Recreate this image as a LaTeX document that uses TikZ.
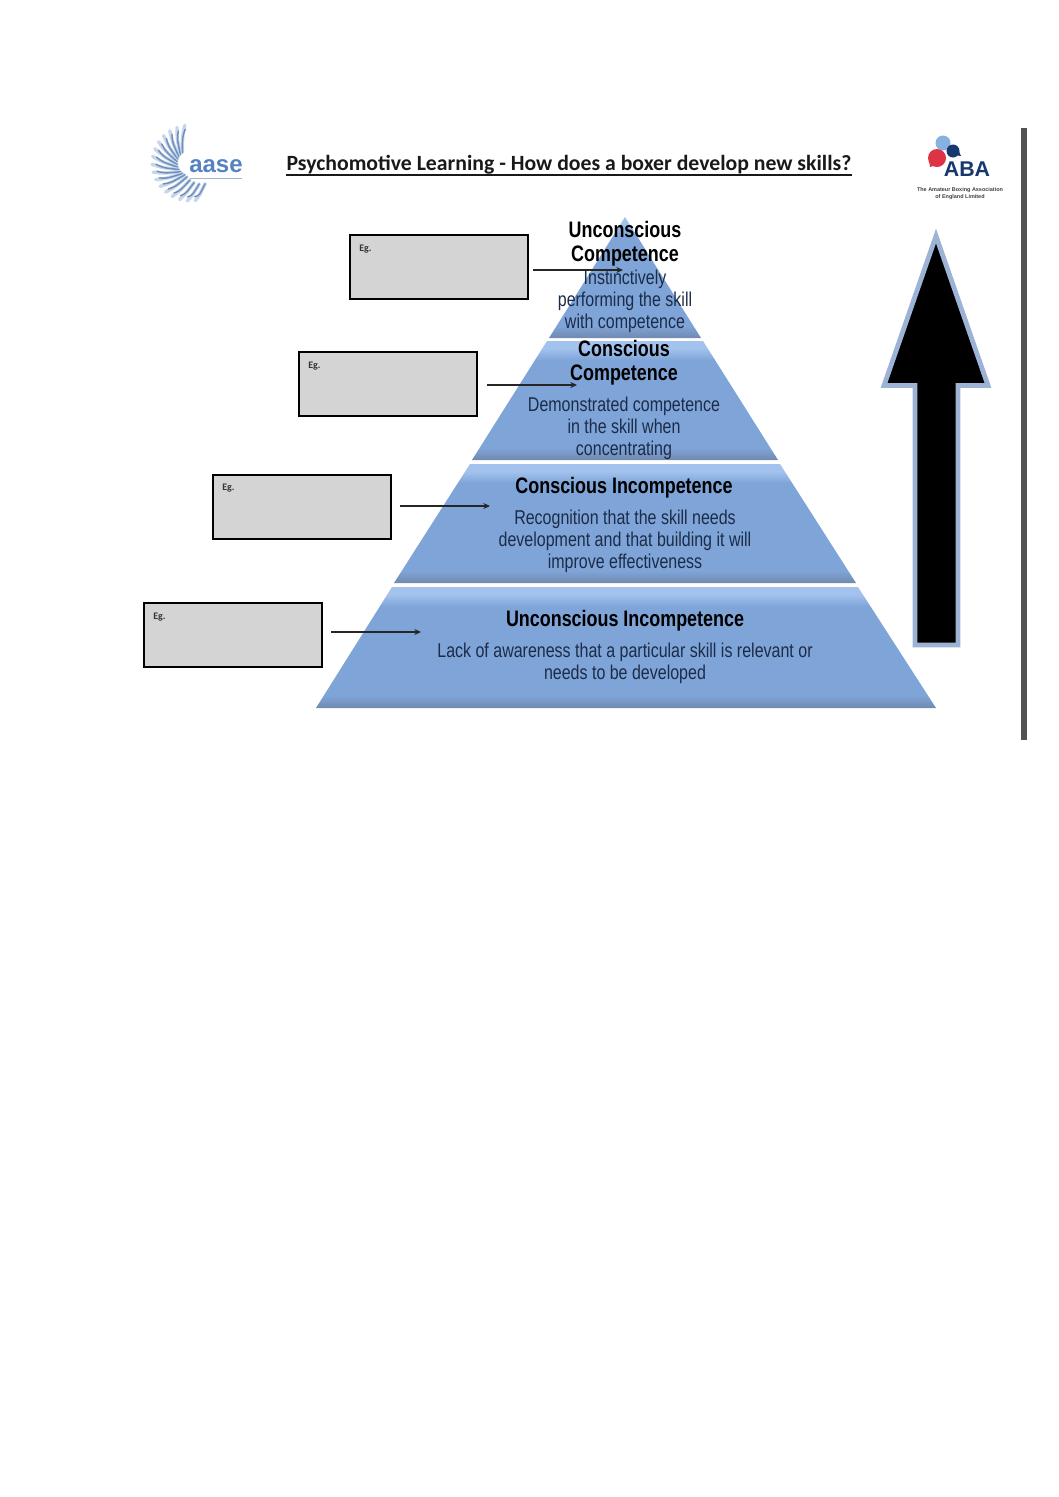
\documentclass[tikz,border=0pt]{standalone}
\usepackage{fontspec}
\setmainfont{Liberation Sans}
\newfontfamily\narrowfont[FakeStretch=0.8]{Liberation Sans}
\newfontfamily\calfont{Carlito}
\usetikzlibrary{arrows.meta,calc}
\definecolor{bandmid}{HTML}{7FA4D8}
\definecolor{banddark}{HTML}{7089AE}
\definecolor{bandlight}{HTML}{A3C3EE}
\definecolor{bodytext}{HTML}{1C2C48}
\definecolor{arrowedge}{HTML}{9DB3D6}
\definecolor{logoblue}{HTML}{5583BF}
\definecolor{raydark}{HTML}{6F8FBE}
\definecolor{raylight}{HTML}{C8D6E9}
\definecolor{abanavy}{HTML}{17386F}
\definecolor{abared}{HTML}{DE3344}
\definecolor{abalight}{HTML}{86B1E0}
\pgfdeclareverticalshading{bandshade}{100bp}{color(0bp)=(banddark);color(25bp)=(banddark);color(30bp)=(bandmid);color(67bp)=(bandmid);color(72bp)=(bandlight);color(75bp)=(bandlight);color(100bp)=(bandlight)}
\tikzset{
  band/.style={shade,shading=bandshade},
  headtxt/.style={font=\narrowfont\fontsize{16.8}{17.5}\selectfont\bfseries,text=black,align=center,inner sep=0pt},
  bodytxt/.style={font=\narrowfont\fontsize{15}{16.5}\selectfont,text=bodytext,align=center,inner sep=0pt},
  egbox/.style={draw=black,line width=1.5pt,fill=black!17,minimum width=132.8pt,minimum height=48pt,inner sep=0pt},
  egtxt/.style={font=\calfont\fontsize{7.5}{8}\selectfont\bfseries,text=black!80,inner sep=0pt,anchor=west},
  conn/.style={draw=black!85,line width=0.85pt,-{Stealth[length=5pt,width=4.5pt]}},
}
\begin{document}
\begin{tikzpicture}[x=0.75pt,y=-0.75pt]
\useasboundingbox (0,0) rectangle (1058,1497);
% pyramid
\path[band] (625,217) -- (701,338) -- (549,338) -- cycle;
\path[band] (547,341) -- (703,341) -- (778,460) -- (472,460) -- cycle;
\path[band] (470,464) -- (780,464) -- (856,583) -- (394,583) -- cycle;
\path[band] (392,587) -- (858,587) -- (936,708) -- (316,708) -- cycle;
% pyramid text
\node[headtxt] (h1) at (625,244) {Unconscious\\[0.5pt]Competence};
\node[bodytxt] (t1) at (625,301.5) {Instinctively\\performing the skill\\with competence};
\node[headtxt] (h2) at (624,363) {Conscious\\[0.5pt]Competence};
\node[bodytxt] (t2) at (624,428) {Demonstrated competence\\in the skill when\\concentrating};
\node[headtxt] (h3) at (624,488) {Conscious Incompetence};
\node[bodytxt] (t3) at (625,541) {Recognition that the skill needs\\development and that building it will\\improve effectiveness};
\node[headtxt] (h4) at (625,621) {Unconscious Incompetence};
\node[bodytxt] (t4) at (625,663.5) {Lack of awareness that a particular skill is relevant or\\needs to be developed};
% boxes
\node[egbox] (b1) at (439,267) {};
\node[egbox] (b2) at (388,383.5) {};
\node[egbox] (b3) at (302,507) {};
\node[egbox] (b4) at (233,635) {};
\node[egtxt] (e1) at (359,249) {Eg.};
\node[egtxt] (e2) at (308,366) {Eg.};
\node[egtxt] (e3) at (222,488) {Eg.};
\node[egtxt] (e4) at (153,617) {Eg.};
% connectors
\coordinate (s1) at (533,270); \coordinate (g1) at (623,270);
\coordinate (s2) at (487,385); \coordinate (g2) at (577,385);
\coordinate (s3) at (400,506); \coordinate (g3) at (490,506);
\coordinate (s4) at (331,632); \coordinate (g4) at (421,632);
\draw[conn] (s1) -- (g1);
\draw[conn] (s2) -- (g2);
\draw[conn] (s3) -- (g3);
\draw[conn] (s4) -- (g4);
% title
\node[font=\calfont\fontsize{16.3}{18}\selectfont\bfseries,text=black!90,inner sep=0pt] (title) at (569,164.5) {Psychomotive Learning - How does a boxer develop new skills?};
\draw[black!90,line width=1pt] (title.west |- 0,175) -- (title.east |- 0,175);
% big arrow
\path[fill=black,draw=arrowedge,line width=3.6pt,line join=miter,miter limit=10] (936,236) -- (988,385.5) -- (958,385.5) -- (958,645) -- (915,645) -- (915,385.5) -- (884,385.5) -- cycle;
% rule on the right
\fill[black!68] (1021,128) rectangle (1027,740);
% aase logo
\coordinate (lc) at (190,163);
\foreach \a in {262,250,238,226,214,202,190,178,166,154,142,130,118,106,94,82}{
  \pgfmathsetmacro{\ri}{13+max(0,135-\a)*0.24}
  \pgfmathsetmacro{\ia}{\a-28}
  \pgfmathsetmacro{\ma}{\a-8}
  \pgfmathsetmacro{\mr}{(\ri+38)/2+2}
  \draw[raylight,line width=2.6pt,line cap=round] ($(lc)+(\ia:\ri)$) .. controls ($(lc)+(\ma:\mr)$) .. ($(lc)+(\a:38)$);
  \draw[raydark,line width=1.1pt,line cap=round] ($(lc)+(\ia:\ri)$) .. controls ($(lc)+(\ma:\mr)$) .. ($(lc)+(\a:34)$);
}
\node[font=\fontsize{18}{18}\selectfont\bfseries,text=logoblue,inner sep=0pt] (aase) at (216,166) {aase};
\draw[logoblue!60,line width=.5pt] (190,178) -- (242,178);
% ABA logo
\fill[abalight] (943,143) circle (7.5);
\fill[abared] (937,158) circle (9);
\fill[abared] (929,160) -- (930,167) -- (936,165) -- cycle;
\fill[abanavy] (953,151) circle (6.5);
\fill[abanavy] (957,147) -- (961,156) -- (955,155) -- cycle;
\node[font=\fontsize{16}{16}\selectfont\bfseries,text=abanavy,inner sep=0pt] (aba) at (967,169.5) {ABA};
\node[font=\fontsize{4.1}{5.2}\selectfont\bfseries,text=black!75,align=center,inner sep=0pt] (abat) at (960,193.5) {The Amateur Boxing Association\\of England Limited};
\end{tikzpicture}
\end{document}
